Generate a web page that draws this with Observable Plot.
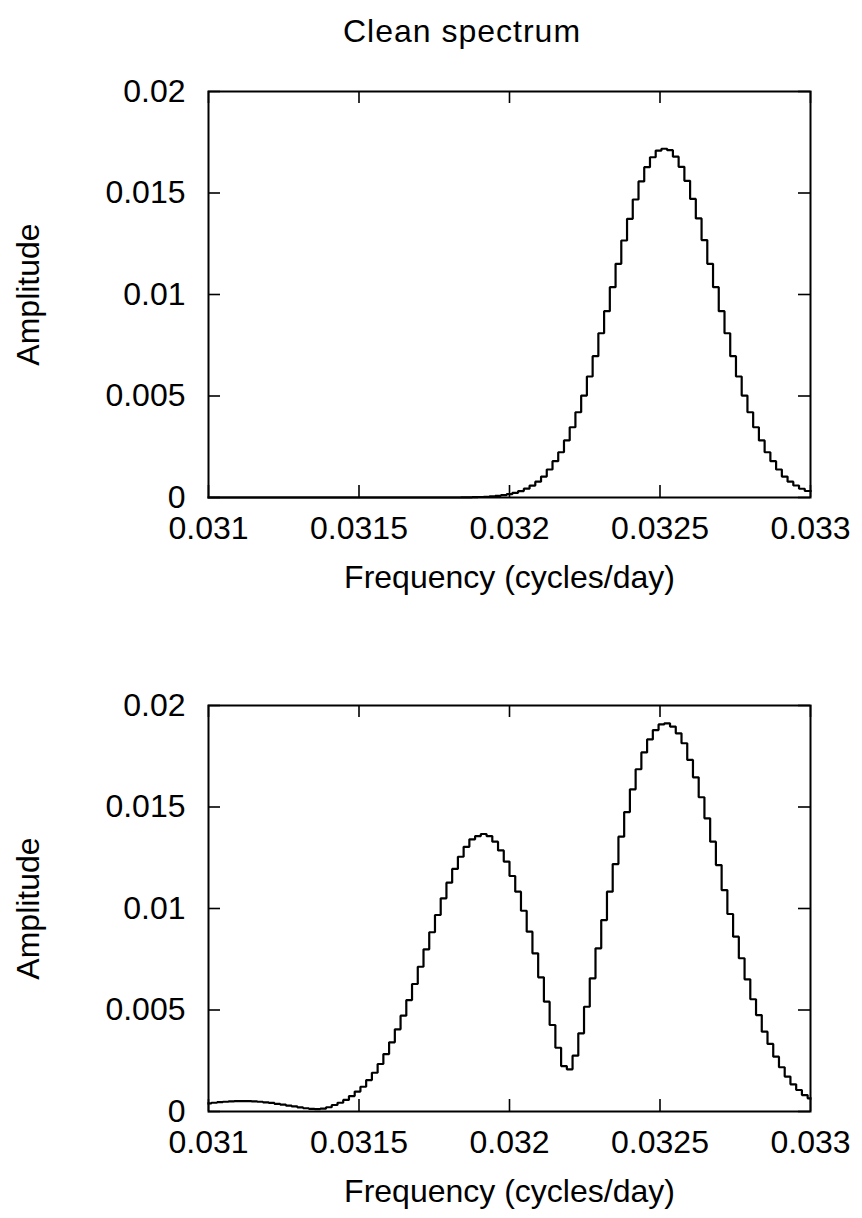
<!DOCTYPE html>
<html>
<head>
<meta charset="utf-8">
<script src="https://cdn.jsdelivr.net/npm/d3@7"></script>
<script src="https://cdn.jsdelivr.net/npm/@observablehq/plot@0.6"></script>
<style>
  html, body { margin: 0; padding: 0; background: white; }
  #wrap { width: 862px; font-family: "Liberation Sans", Arial, sans-serif; }
  #title { height: 60px; line-height: 62px; text-align: center; font-size: 32px; letter-spacing: 1px; color: black; padding-left: 62px; box-sizing: border-box; }
  svg { display: block; }
</style>
</head>
<body>
<div id="wrap">
  <div id="title"></div>
  <div id="p1"></div>
  <div id="p2"></div>
</div>
<script>
const titleText = "Clean spectrum";
const xLabel = "Frequency (cycles/day)";
const yLabel = "Amplitude";
const xTicks = [0.031, 0.0315, 0.032, 0.0325, 0.033];
const xTickLabels = ["0.031", "0.0315", "0.032", "0.0325", "0.033"];
const yTicks = [0, 0.005, 0.01, 0.015, 0.02];
const yTickLabels = ["0", "0.005", "0.01", "0.015", "0.02"];

// frequency grid (cycles/day)
const freq = [
  0.0310000, 0.0310190, 0.0310381, 0.0310571, 0.0310762, 0.0310952, 0.0311143, 0.0311333, 0.0311524, 0.0311714,
  0.0311905, 0.0312095, 0.0312286, 0.0312476, 0.0312667, 0.0312857, 0.0313048, 0.0313238, 0.0313429, 0.0313619,
  0.0313810, 0.0314000, 0.0314190, 0.0314381, 0.0314571, 0.0314762, 0.0314952, 0.0315143, 0.0315333, 0.0315524,
  0.0315714, 0.0315905, 0.0316095, 0.0316286, 0.0316476, 0.0316667, 0.0316857, 0.0317048, 0.0317238, 0.0317429,
  0.0317619, 0.0317810, 0.0318000, 0.0318190, 0.0318381, 0.0318571, 0.0318762, 0.0318952, 0.0319143, 0.0319333,
  0.0319524, 0.0319714, 0.0319905, 0.0320095, 0.0320286, 0.0320476, 0.0320667, 0.0320857, 0.0321048, 0.0321238,
  0.0321429, 0.0321619, 0.0321810, 0.0322000, 0.0322190, 0.0322381, 0.0322571, 0.0322762, 0.0322952, 0.0323143,
  0.0323333, 0.0323524, 0.0323714, 0.0323905, 0.0324095, 0.0324286, 0.0324476, 0.0324667, 0.0324857, 0.0325048,
  0.0325238, 0.0325429, 0.0325619, 0.0325810, 0.0326000, 0.0326190, 0.0326381, 0.0326571, 0.0326762, 0.0326952,
  0.0327143, 0.0327333, 0.0327524, 0.0327714, 0.0327905, 0.0328095, 0.0328286, 0.0328476, 0.0328667, 0.0328857,
  0.0329048, 0.0329238, 0.0329429, 0.0329619, 0.0329810, 0.0330000
];

// top panel amplitudes
const ampTop = [
  0, 0, 0, 0, 0, 0, 0, 0, 0, 0,
  0, 0, 0, 0, 0, 0, 0, 0, 0, 0,
  0, 0, 0, 0, 0, 0, 0, 0, 0, 0,
  0, 0, 0, 0, 0, 0, 0, 0, 0, 0,
  0, 0, 0, 0, 0.000007, 0.000011, 0.000016, 0.000025, 0.000037, 0.000055,
  0.00008, 0.000115, 0.000163, 0.000229, 0.000318, 0.000434, 0.000586, 0.000781, 0.00103, 0.00138,
  0.00179, 0.00223, 0.00281, 0.00346, 0.00420, 0.00502, 0.00596, 0.00696, 0.00809, 0.00918,
  0.01036, 0.01151, 0.01266, 0.01373, 0.01468, 0.01557, 0.01627, 0.01676, 0.01709, 0.01718,
  0.01711, 0.01679, 0.01629, 0.01560, 0.01471, 0.01375, 0.01268, 0.01151, 0.01036, 0.00918,
  0.00809, 0.00696, 0.00596, 0.00502, 0.00420, 0.00346, 0.00281, 0.00223, 0.00179, 0.00138,
  0.00103, 0.00078, 0.00059, 0.00043, 0.00032, 0.00032
];

// bottom panel amplitudes
const ampBottom = [
  0.00040, 0.00043, 0.00046, 0.00048, 0.00050, 0.00051, 0.00051, 0.00051, 0.00050, 0.00048,
  0.00045, 0.00042, 0.00038, 0.00034, 0.00029, 0.00025, 0.00020, 0.00016, 0.00013, 0.00012,
  0.00014, 0.00021, 0.00032, 0.00043, 0.00057, 0.00076, 0.00098, 0.00122, 0.00155, 0.00191,
  0.00234, 0.00283, 0.00341, 0.00405, 0.00472, 0.00549, 0.00628, 0.00713, 0.00799, 0.00883,
  0.00968, 0.01050, 0.01127, 0.01195, 0.01255, 0.01304, 0.01341, 0.01357, 0.01367, 0.01357,
  0.01329, 0.01286, 0.01231, 0.01160, 0.01083, 0.00989, 0.00886, 0.00779, 0.00661, 0.00541,
  0.00426, 0.00314, 0.00224, 0.00208, 0.00275, 0.00385, 0.00516, 0.00656, 0.00804, 0.00943,
  0.01083, 0.01219, 0.01354, 0.01475, 0.01587, 0.01686, 0.01769, 0.01833, 0.01879, 0.01907,
  0.01912, 0.01896, 0.01863, 0.01814, 0.01732, 0.01646, 0.01548, 0.01444, 0.01329, 0.01214,
  0.01091, 0.00973, 0.00861, 0.00755, 0.00651, 0.00553, 0.00475, 0.00393, 0.00333, 0.00270,
  0.00218, 0.00172, 0.00134, 0.00106, 0.00081, 0.00065
];

document.getElementById("title").textContent = titleText;

const FONT = "Liberation Sans, Arial, sans-serif";

function panel(amp, curve, height, marginTop, marginBottom) {
  const plotH = height - marginTop - marginBottom;
  const plotW = 862 - 208 - 52;
  const tick = 12;
  const data = freq.map((f, i) => ({f, a: amp[i]}));
  return Plot.plot({
    width: 862,
    height,
    marginLeft: 208,
    marginRight: 52,
    marginTop,
    marginBottom,
    x: {domain: [0.031, 0.033], axis: null},
    y: {domain: [0, 0.02], axis: null},
    style: {fontFamily: FONT, fontSize: "32px", color: "black", background: "white", overflow: "visible"},
    marks: [
      Plot.line(data, {x: "f", y: "a", curve, stroke: "black", strokeWidth: 2.2, strokeLinejoin: "miter", strokeLinecap: "square"}),
      Plot.tickX(xTicks, {x: d => d, insetTop: plotH - tick, stroke: "black", strokeWidth: 1.6}),
      Plot.tickX(xTicks, {x: d => d, insetBottom: plotH - tick, stroke: "black", strokeWidth: 1.6}),
      Plot.tickY(yTicks, {y: d => d, insetRight: plotW - tick, stroke: "black", strokeWidth: 1.6}),
      Plot.tickY(yTicks, {y: d => d, insetLeft: plotW - tick, stroke: "black", strokeWidth: 1.6}),
      Plot.frame({stroke: "black", strokeWidth: 2}),
      Plot.text(xTicks, {x: d => d, text: (d, i) => xTickLabels[i], frameAnchor: "bottom", dy: 41, fontSize: 32, fill: "black"}),
      Plot.text(yTicks, {y: d => d, text: (d, i) => yTickLabels[i], frameAnchor: "left", dx: -23, textAnchor: "end", fontSize: 32, fill: "black"}),
      Plot.text([xLabel], {text: d => d, frameAnchor: "bottom", dy: 90, fontSize: 32, fill: "black", textAnchor: "middle", letterSpacing: "1px"}),
      Plot.text([yLabel], {text: d => d, frameAnchor: "left", dx: -180, rotate: -90, textAnchor: "middle", fontSize: 32, fill: "black", letterSpacing: "1px"})
    ]
  });
}

document.getElementById("p1").append(panel(ampTop, "step-after", 614, 31, 177));
document.getElementById("p2").append(panel(ampBottom, "step", 544, 31, 107));
</script>
</body>
</html>
